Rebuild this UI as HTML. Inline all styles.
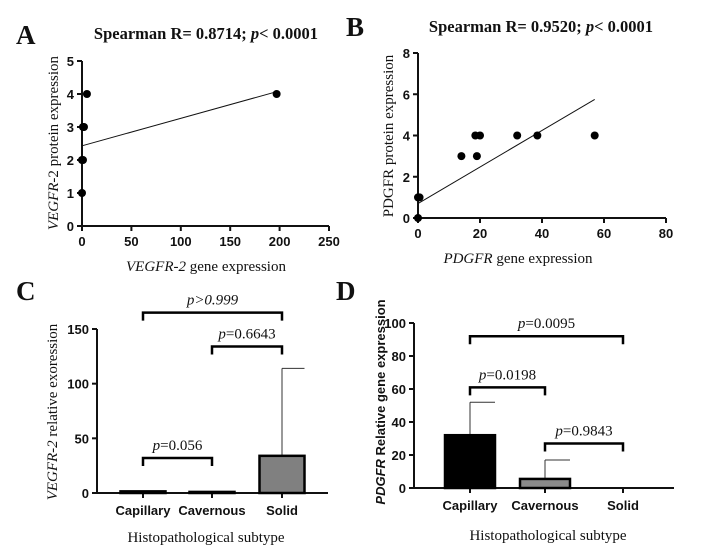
<!DOCTYPE html>
<html><head><meta charset="utf-8"><style>
html,body{margin:0;padding:0;background:#fff;}
svg{display:block;}
.tk{font-family:"Liberation Sans",sans-serif;font-weight:bold;font-size:13px;fill:#111;}
.sf{font-family:"Liberation Serif",serif;font-size:15px;fill:#111;}
.tt{font-family:"Liberation Serif",serif;font-size:16.5px;font-weight:bold;fill:#111;}
.lt{font-family:"Liberation Serif",serif;font-weight:bold;font-size:27px;fill:#111;}
</style></head><body>
<svg id="s" width="712" height="558" viewBox="0 0 712 558" xmlns="http://www.w3.org/2000/svg">
<text class="lt" x="16" y="44">A</text>
<text class="lt" x="346" y="36">B</text>
<text class="lt" x="16" y="300">C</text>
<text class="lt" x="336" y="300">D</text>
<text class="tt" x="206" y="39" text-anchor="middle">Spearman R= 0.8714; <tspan font-style="italic">p</tspan>&lt; 0.0001</text>
<text class="tt" x="541" y="32" text-anchor="middle">Spearman R= 0.9520; <tspan font-style="italic">p</tspan>&lt; 0.0001</text>
<text class="sf" x="206" y="271" text-anchor="middle"><tspan font-style="italic">VEGFR-2</tspan> gene expression</text>
<text class="sf" transform="translate(58,143) rotate(-90)" text-anchor="middle"><tspan font-style="italic">VEGFR</tspan>-2 protein expression</text>
<text class="sf" x="518" y="263" text-anchor="middle"><tspan font-style="italic">PDGFR</tspan> gene expression</text>
<text class="sf" transform="translate(393,136) rotate(-90)" text-anchor="middle">PDGFR protein expression</text>
<text class="sf" x="206" y="542" text-anchor="middle">Histopathological subtype</text>
<text class="sf" transform="translate(57,412) rotate(-90)" text-anchor="middle"><tspan font-style="italic">VEGFR-2</tspan> relative exoression</text>
<text class="sf" x="548" y="540" text-anchor="middle">Histopathological subtype</text>
<text transform="translate(385,402) rotate(-90)" text-anchor="middle" style="font-family:'Liberation Sans',sans-serif;font-weight:bold;font-size:13px;fill:#111"><tspan font-style="italic">PDGFR</tspan> Relative gene expression</text>
</svg>
<script>
// Panel A data
const aX=[0,0,1,1,2,5,197];
const aY=[1,2,2,3,3,4,4];
const aFit=[[0,2.43],[197,4.07]];
const aXTicks=[0,50,100,150,200,250];
const aYTicks=[0,1,2,3,4,5];
// Panel B data
const bX=[0,0,0.5,14,18.5,19,20,32,38.5,57];
const bY=[0,1,1,3,4,3,4,4,4,4];
const bFit=[[0,0.7],[57,5.75]];
const bXTicks=[0,20,40,60,80];
const bYTicks=[0,2,4,6,8];
// Panel C data
const cCats=["Capillary","Cavernous","Solid"];
const cVals=[1.5,1.0,34];
const cErr=[1.5,1.0,114];
const cYTicks=[0,50,100,150];
const cPairs=[[0,2,"p>0.999",165,true],[1,2,"=0.6643",134,false],[0,1,"=0.056",32,false]];
// Panel D data
const dCats=["Capillary","Cavernous","Solid"];
const dVals=[32,5.5,0];
const dErr=[52,17,0];
const dYTicks=[0,20,40,60,80,100];
const dPairs=[[0,2,"=0.0095",92],[0,1,"=0.0198",61],[1,2,"=0.9843",27]];

const S=document.getElementById('s');
const NS="http://www.w3.org/2000/svg";
function mk(t,a,txt){const e=document.createElementNS(NS,t);for(const k in a)e.setAttribute(k,a[k]);if(txt!==undefined)e.textContent=txt;S.appendChild(e);return e;}
function lin(d0,d1,r0,r1){return v=>r0+(v-d0)*(r1-r0)/(d1-d0);}

function scatter(p,xs,ys,fit,xt,yt,X,Y){
  let e=mk('line',{x1:X(xt[0]),y1:Y(yt[0]),x2:X(xt[xt.length-1]),y2:Y(yt[0]),stroke:'#111','stroke-width':2});
  
  
  e=mk('line',{x1:X(xt[0]),y1:Y(yt[0]),x2:X(xt[0]),y2:Y(yt[yt.length-1]),stroke:'#111','stroke-width':2});
  
  
  xt.forEach(t=>{mk('line',{x1:X(t),y1:Y(yt[0]),x2:X(t),y2:Y(yt[0])+5,stroke:'#111','stroke-width':2});
    e=mk('text',{class:'tk',x:X(t),y:Y(yt[0])+20,'text-anchor':'middle'},t);
    
    });
  yt.forEach(t=>{mk('line',{x1:X(xt[0])-5,y1:Y(t),x2:X(xt[0]),y2:Y(t),stroke:'#111','stroke-width':2});
    e=mk('text',{class:'tk',x:X(xt[0])-8,y:Y(t)+5,'text-anchor':'end'},t);
    
    });
  e=mk('line',{x1:X(fit[0][0]),y1:Y(fit[0][1]),x2:X(fit[1][0]),y2:Y(fit[1][1]),stroke:'#111','stroke-width':1});
  
  
  xs.forEach((x,i)=>{e=mk('circle',{cx:X(x),cy:Y(ys[i]),r:4,fill:'#000'});
    
    });
}
scatter('panel-a',aX,aY,aFit,aXTicks,aYTicks,lin(0,250,82,329),lin(0,5,226,61));
scatter('panel-b',bX,bY,bFit,bXTicks,bYTicks,lin(0,80,418,666),lin(0,8,218,53));

function bars(p,cats,vals,errs,yt,Y,x0,x1,cx,bw,fills,pairs){
  let e=mk('line',{x1:x0,y1:Y(0),x2:x1,y2:Y(0),stroke:'#111','stroke-width':2});
  
  
  e=mk('line',{x1:x0,y1:Y(0),x2:x0,y2:Y(yt[yt.length-1]),stroke:'#111','stroke-width':2});
  
  
  yt.forEach(t=>{mk('line',{x1:x0-5,y1:Y(t),x2:x0,y2:Y(t),stroke:'#111','stroke-width':2});
    e=mk('text',{class:'tk',x:x0-8,y:Y(t)+5,'text-anchor':'end'},t);
    
    });
  cats.forEach((c,i)=>{
    mk('line',{x1:cx[i],y1:Y(0),x2:cx[i],y2:Y(0)+5,stroke:'#111','stroke-width':2});
    e=mk('text',{class:'tk',x:cx[i],y:Y(0)+22,'text-anchor':'middle'},c);
    
    
    if(errs[i]>vals[i]){
      mk('line',{x1:cx[i],y1:Y(vals[i]),x2:cx[i],y2:Y(errs[i]),stroke:'#333','stroke-width':1});
      e=mk('line',{x1:cx[i],y1:Y(errs[i]),x2:cx[i]+bw/2,y2:Y(errs[i]),stroke:'#333','stroke-width':1});
      
      }
    if(vals[i]>0){
      e=mk('rect',{x:cx[i]-bw/2,y:Y(vals[i]),width:bw,height:Y(0)-Y(vals[i]),fill:fills[i],stroke:'#000','stroke-width':2.5});
      
      }
  });
  pairs.forEach(q=>{
    const y=Y(q[3]),a=cx[q[0]],b=cx[q[1]];
    e=mk('path',{d:`M${a},${y+8}V${y}H${b}V${y+8}`,fill:'none',stroke:'#000','stroke-width':2.5});
    
    
    e=mk('text',{class:'sf',x:(a+b)/2,y:y-8,'text-anchor':'middle'});
    
    
    if(q[4]){const t=document.createElementNS(NS,'tspan');t.setAttribute('font-style','italic');t.textContent=q[2];e.appendChild(t);}
    else{const t=document.createElementNS(NS,'tspan');t.setAttribute('font-style','italic');t.textContent='p';e.appendChild(t);e.appendChild(document.createTextNode(q[2]));}
  });
}
bars('panel-c',cCats,cVals,cErr,cYTicks,lin(0,150,493,329),97,328,[143,212,282],45,['#222','#777','#808080'],cPairs);
bars('panel-d',dCats,dVals,dErr,dYTicks,lin(0,100,488,323),414,674,[470,545,623],50,['#000','#8a8a8a','#888'],dPairs);
</script>
</body></html>
